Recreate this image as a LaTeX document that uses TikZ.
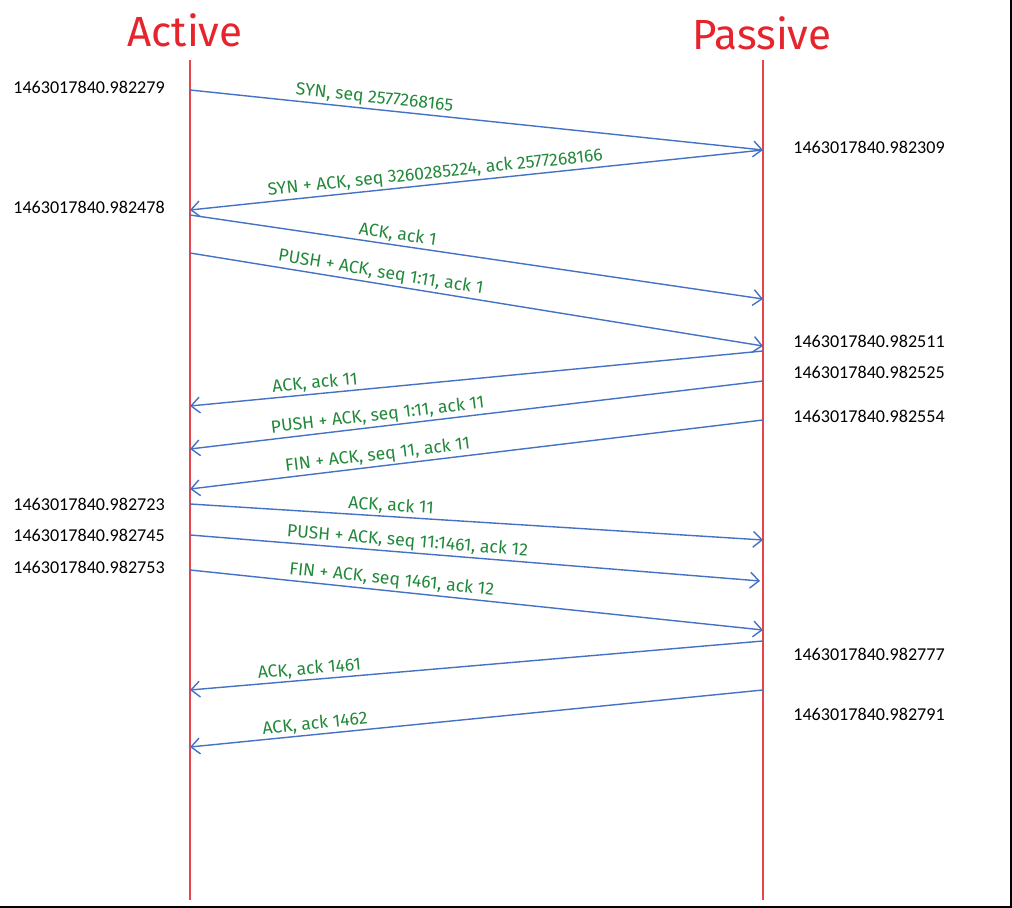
\documentclass[tikz,border=0pt]{standalone}
\usepackage{fontspec}
\setmainfont{Carlito}
\newfontfamily\handfont{Fira Sans}
\usetikzlibrary{arrows.meta}

\definecolor{lifered}{RGB}{232,68,76}
\definecolor{titlered}{RGB}{230,36,44}
\definecolor{msgblue}{RGB}{68,114,196}
\definecolor{lblgreen}{RGB}{34,136,58}

\tikzset{
  lifeline/.style = {draw=lifered, line width=1.2pt},
  msg/.style = {draw=msgblue, line width=0.8pt, -{Straight Barb[length=5pt,width=9pt]}},
  lbl/.style = {sloped, above, inner sep=1pt, text=lblgreen, font=\handfont\fontsize{10}{12}\selectfont},
  stamp/.style = {inner sep=0pt, font=\fontsize{10.3}{12}\selectfont},
  title/.style = {text=titlered, font=\handfont\fontsize{24}{28}\selectfont}
}

\begin{document}
\begin{tikzpicture} [x=0.02cm, y=-0.02cm]
        \useasboundingbox (0,0) rectangle (1012,908);
        \draw [line width=1.2pt] (1011,0) -- (1011,907) -- (0,907);

        % the two ends
        \node (active) [title] at (185,30) {Active};
        \node (passive) [title] at (762,33) {Passive};
        \coordinate (atop) at (190,60);
        \coordinate (abot) at (190,900);
        \coordinate (ptop) at (763,60);
        \coordinate (pbot) at (763,900);
        \path [lifeline] (atop) -- (abot);
        \path [lifeline] (ptop) -- (pbot);

        % points on the active side
        \coordinate (a1) at (190,90);
        \coordinate (a2) at (190,210);
        \coordinate (a3) at (190,215);
        \coordinate (a4) at (190,253);
        \coordinate (a5) at (190,406);
        \coordinate (a6) at (190,449);
        \coordinate (a7) at (190,489);
        \coordinate (a8) at (190,504);
        \coordinate (a9) at (190,535);
        \coordinate (a10) at (190,570);
        \coordinate (a11) at (190,690);
        \coordinate (a12) at (190,747);

        % points on the passive side
        \coordinate (p1) at (763,150);
        \coordinate (p3) at (763,299);
        \coordinate (p4) at (763,346);
        \coordinate (p5) at (763,351);
        \coordinate (p6) at (763,381);
        \coordinate (p7) at (763,420);
        \coordinate (p8) at (763,540);
        \coordinate (p9) at (760,581);
        \coordinate (p10) at (763,630);
        \coordinate (p11) at (763,641);
        \coordinate (p12) at (763,690);

        \path
        (a1) edge [msg] node [lbl, pos=0.32] {SYN, seq 2577268165} (p1)
        (p1) edge [msg] node [lbl, pos=0.57] {SYN + ACK, seq 3260285224, ack 2577268166} (a2)
        (a3) edge [msg] node [lbl, pos=0.36] {ACK, ack 1} (p3)
        (a4) edge [msg] node [lbl, pos=0.33] {PUSH + ACK, seq 1:11, ack 1} (p4)
        (p5) edge [msg] node [lbl, pos=0.78] {ACK, ack 11} (a5)
        (p6) edge [msg] node [lbl, pos=0.67] {PUSH + ACK, seq 1:11, ack 11} (a6)
        (p7) edge [msg] node [lbl, pos=0.67] {FIN + ACK, seq 11, ack 11} (a7)
        (a8) edge [msg] node [lbl, pos=0.35] {ACK, ack 11} (p8)
        (a9) edge [msg] node [lbl, pos=0.38] {PUSH + ACK, seq 11:1461, ack 12} (p9)
        (a10) edge [msg] node [lbl, pos=0.35] {FIN + ACK, seq 1461, ack 12} (p10)
        (p11) edge [msg] node [lbl, pos=0.79] {ACK, ack 1461} (a11)
        (p12) edge [msg] node [lbl, pos=0.78] {ACK, ack 1462} (a12)
        ;

        % time stamps
        \node (ta1) [stamp, anchor=west] at (13,87) {1463017840.982279};
        \node (ta2) [stamp, anchor=west] at (13,207) {1463017840.982478};
        \node (ta8) [stamp, anchor=west] at (13,504) {1463017840.982723};
        \node (ta9) [stamp, anchor=west] at (13,535) {1463017840.982745};
        \node (ta10) [stamp, anchor=west] at (13,567) {1463017840.982753};
        \node (tp1) [stamp, anchor=west] at (793,147) {1463017840.982309};
        \node (tp5) [stamp, anchor=west] at (793,341) {1463017840.982511};
        \node (tp6) [stamp, anchor=west] at (793,372) {1463017840.982525};
        \node (tp7) [stamp, anchor=west] at (793,416) {1463017840.982554};
        \node (tp11) [stamp, anchor=west] at (793,654) {1463017840.982777};
        \node (tp12) [stamp, anchor=west] at (793,714) {1463017840.982791};
\end{tikzpicture}
\end{document}
